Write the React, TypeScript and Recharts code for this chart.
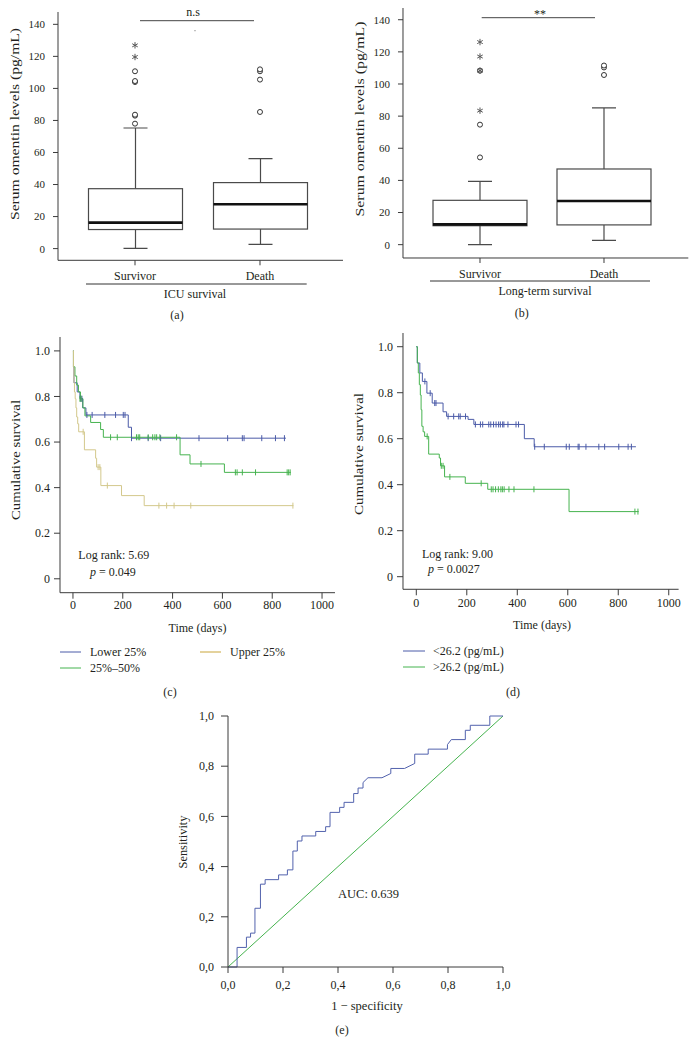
import React from "react";
import { ComposedChart, Bar, Scatter, Line, XAxis, YAxis } from "recharts";

const FONT = "'Liberation Serif', 'Times New Roman', serif";
const INK = "#231f20";
const AXIS = "#3a3a3a";

// ---------- (a), (b) box plots ----------
const groups = ["Survivor", "Death"];
// lower whisker, Q1, median, Q3, upper whisker
const icuSurvivor = [0.2, 11.9, 16.2, 37.4, 75.3];
const icuDeath = [2.7, 12.2, 27.7, 41.2, 56.2];
const longSurvivor = [0, 11.8, 12.6, 27.6, 39.4];
const longDeath = [2.7, 12.3, 27.2, 47.1, 85.1];

const icuSurvivorCircles = [78, 83, 83.6, 104, 104.6, 110.7];
const icuSurvivorStars = [119.6, 126.9];
const icuDeathCircles = [85.3, 105.5, 110.7, 111.9];
const longSurvivorCircles = [54.3, 74.7, 108.3];
const longSurvivorStars = [83.4, 108.3, 117.1, 126.1];
const longDeathCircles = [105.6, 110.3, 111.5];

const boxTicks = [0, 20, 40, 60, 80, 100, 120, 140];

// ---------- (c) KM by quartile ----------
const lowerSteps = [[0, 1], [2, 0.93], [4, 0.86], [17, 0.82], [28, 0.79], [39, 0.75], [52, 0.719], [222, 0.665], [235, 0.617], [855, 0.617]];
const lowerCensor = [[31, 0.79], [36, 0.79], [56, 0.719], [77, 0.719], [128, 0.719], [171, 0.719], [202, 0.719], [209, 0.719], [235, 0.617], [302, 0.617], [352, 0.617], [506, 0.617], [621, 0.617], [680, 0.617], [687, 0.617], [758, 0.617], [813, 0.617], [849, 0.617]];
const midSteps = [[0, 1], [2, 0.93], [8, 0.89], [15, 0.85], [22, 0.82], [30, 0.79], [40, 0.75], [48, 0.715], [71, 0.686], [111, 0.655], [122, 0.621], [430, 0.544], [470, 0.504], [608, 0.467], [875, 0.467]];
const midCensor = [[28, 0.79], [33, 0.79], [151, 0.621], [178, 0.621], [255, 0.621], [262, 0.621], [268, 0.621], [302, 0.621], [320, 0.621], [329, 0.621], [336, 0.621], [349, 0.621], [416, 0.621], [514, 0.504], [652, 0.467], [659, 0.467], [680, 0.467], [733, 0.467], [860, 0.467], [866, 0.467], [872, 0.467]];
const upperSteps = [[0, 1], [2, 0.93], [4, 0.86], [6, 0.82], [9, 0.79], [12, 0.75], [15, 0.71], [19, 0.68], [23, 0.645], [46, 0.566], [91, 0.529], [95, 0.49], [112, 0.409], [195, 0.365], [286, 0.321], [885, 0.321]];
const upperCensor = [[41, 0.645], [101, 0.49], [108, 0.49], [138, 0.409], [345, 0.321], [376, 0.321], [406, 0.321], [473, 0.321], [883, 0.321]];

// ---------- (d) KM by cut-off ----------
const lowSteps = [[0, 1], [4, 0.929], [14, 0.886], [24, 0.849], [42, 0.798], [63, 0.755], [106, 0.717], [120, 0.697], [205, 0.684], [228, 0.662], [428, 0.6], [467, 0.565], [870, 0.565]];
const lowCensor = [[34, 0.849], [55, 0.798], [73, 0.755], [78, 0.755], [126, 0.697], [148, 0.697], [168, 0.697], [174, 0.697], [195, 0.697], [234, 0.662], [254, 0.662], [263, 0.662], [287, 0.662], [295, 0.662], [306, 0.662], [316, 0.662], [326, 0.662], [333, 0.662], [342, 0.662], [347, 0.662], [363, 0.662], [395, 0.662], [405, 0.662], [469, 0.565], [507, 0.565], [594, 0.565], [606, 0.565], [641, 0.565], [645, 0.565], [672, 0.565], [723, 0.565], [746, 0.565], [802, 0.565], [839, 0.565], [852, 0.565]];
const highSteps = [[0, 1], [4, 0.93], [8, 0.886], [12, 0.835], [16, 0.79], [19, 0.726], [22, 0.654], [27, 0.63], [33, 0.61], [49, 0.533], [91, 0.516], [96, 0.482], [112, 0.434], [194, 0.406], [283, 0.38], [605, 0.283], [881, 0.283]];
const highCensor = [[43, 0.61], [99, 0.482], [106, 0.482], [133, 0.434], [257, 0.406], [297, 0.38], [304, 0.38], [314, 0.38], [325, 0.38], [335, 0.38], [341, 0.38], [348, 0.38], [367, 0.38], [387, 0.38], [466, 0.38], [866, 0.283], [878, 0.283]];

const dayTicks = [0, 200, 400, 600, 800, 1000];
const survTicks = [0, 0.2, 0.4, 0.6, 0.8, 1.0];

// ---------- (e) ROC ----------
const rocPoints = [
  [0, 0], [0.033, 0], [0.033, 0.078], [0.067, 0.078], [0.067, 0.119], [0.082, 0.119], [0.082, 0.135],
  [0.098, 0.135], [0.098, 0.234], [0.118, 0.234], [0.118, 0.33], [0.135, 0.33], [0.135, 0.348],
  [0.184, 0.348], [0.184, 0.367], [0.216, 0.367], [0.216, 0.387], [0.236, 0.387], [0.236, 0.462],
  [0.252, 0.462], [0.252, 0.502], [0.269, 0.502], [0.269, 0.522], [0.319, 0.522], [0.319, 0.54],
  [0.355, 0.54], [0.355, 0.559], [0.371, 0.559], [0.371, 0.616], [0.406, 0.616], [0.406, 0.636],
  [0.422, 0.636], [0.422, 0.656], [0.457, 0.656], [0.457, 0.691], [0.473, 0.691], [0.473, 0.713],
  [0.491, 0.713], [0.491, 0.735], [0.509, 0.754], [0.56, 0.754], [0.592, 0.771], [0.592, 0.791],
  [0.642, 0.791], [0.679, 0.811], [0.679, 0.848], [0.728, 0.848], [0.728, 0.868], [0.798, 0.868],
  [0.798, 0.886], [0.812, 0.906], [0.863, 0.906], [0.863, 0.943], [0.881, 0.943], [0.881, 0.963],
  [0.952, 0.963], [0.952, 1], [1, 1],
];
const refPoints = [[0, 0], [1, 1]];
const rocTicks = [0, 0.2, 0.4, 0.6, 0.8, 1.0];

// ---------- helpers ----------
const toBox = (group: string, v: number[]) => ({
  group, lo: v[0], q1: v[1], med: v[2], q3: v[3], hi: v[4], range: [v[0], v[4]],
});
const toOut = (group: string, vals: number[], kind: string) => vals.map((v) => ({ group, v, kind }));
const toKM = (pts: number[][]) => pts.map(([t, s]) => ({ t, s }));

const icuBoxes = [toBox(groups[0], icuSurvivor), toBox(groups[1], icuDeath)];
const icuOut = [
  ...toOut(groups[0], icuSurvivorCircles, "o"),
  ...toOut(groups[0], icuSurvivorStars, "*"),
  ...toOut(groups[1], icuDeathCircles, "o"),
];
const longBoxes = [toBox(groups[0], longSurvivor), toBox(groups[1], longDeath)];
const longOut = [
  ...toOut(groups[0], longSurvivorCircles, "o"),
  ...toOut(groups[0], longSurvivorStars, "*"),
  ...toOut(groups[1], longDeathCircles, "o"),
];

const BLUE = "#4a5aa8";
const GREEN = "#45b34e";
const KHAKI = "#d3c88c";

const kmC = [
  { name: "Lower 25%", color: BLUE, steps: toKM(lowerSteps), censor: toKM(lowerCensor) },
  { name: "25%–50%", color: GREEN, steps: toKM(midSteps), censor: toKM(midCensor) },
  { name: "Upper 25%", color: KHAKI, steps: toKM(upperSteps), censor: toKM(upperCensor) },
];
const kmD = [
  { name: "<26.2 (pg/mL)", color: BLUE, steps: toKM(lowSteps), censor: toKM(lowCensor) },
  { name: ">26.2 (pg/mL)", color: GREEN, steps: toKM(highSteps), censor: toKM(highCensor) },
];

const YW = 50;
const XH = 30;
const MT = 10;

const BoxShape = (props: any) => {
  const { x, y, width, height, payload } = props;
  const { lo, q1, med, q3, hi } = payload;
  const py = (v: number) => y + (height * (hi - v)) / (hi - lo);
  const cx = x + width / 2;
  const cap = 12;
  return (
    <g stroke="#4a4a4a" strokeWidth={1.2} fill="none">
      <line x1={cx} x2={cx} y1={py(hi)} y2={py(q3)} />
      <line x1={cx} x2={cx} y1={py(q1)} y2={py(lo)} />
      <line x1={cx - cap} x2={cx + cap} y1={py(hi)} y2={py(hi)} />
      <line x1={cx - cap} x2={cx + cap} y1={py(lo)} y2={py(lo)} />
      <rect x={x} y={py(q3)} width={width} height={py(q1) - py(q3)} fill="#fff" />
      <line x1={x} x2={x + width} y1={py(med)} y2={py(med)} stroke="#111" strokeWidth={2.6} />
    </g>
  );
};

const OutlierShape = (props: any) => {
  const { cx, cy, payload } = props;
  if (payload.kind === "*") {
    const r = 3.2;
    const a = r * Math.cos(Math.PI / 6);
    const b = r * Math.sin(Math.PI / 6);
    return (
      <g stroke="#555" strokeWidth={1}>
        <line x1={cx} x2={cx} y1={cy - r} y2={cy + r} />
        <line x1={cx - a} x2={cx + a} y1={cy - b} y2={cy + b} />
        <line x1={cx - a} x2={cx + a} y1={cy + b} y2={cy - b} />
      </g>
    );
  }
  return <circle cx={cx} cy={cy} r={2.5} fill="#fff" stroke="#333" strokeWidth={1} />;
};

const censorShape = (color: string) => (props: any) => (
  <line x1={props.cx} x2={props.cx} y1={props.cy - 3} y2={props.cy + 3} stroke={color} strokeWidth={1} />
);

const tickStyle = (size: number) => ({ fill: INK, fontSize: size, fontFamily: FONT });

function BoxPanel({ boxes, outliers, left, top, width, height, yDomain, padL, padR }: any) {
  return (
    <div style={{ position: "absolute", left: left - YW, top: top - MT }}>
      <ComposedChart width={YW + width + 2} height={MT + height + XH} data={boxes} margin={{ top: MT, right: 2, bottom: 0, left: 0 }}>
        <XAxis dataKey="group" type="category" allowDuplicatedCategory={false} padding={{ left: padL, right: padR }}
          height={XH} tickSize={5} tickMargin={6} stroke={AXIS} tick={tickStyle(12)} />
        <YAxis type="number" domain={yDomain} ticks={boxTicks} allowDataOverflow width={YW} tickSize={5} tickMargin={8}
          stroke={AXIS} tick={tickStyle(11)} />
        <Bar dataKey="range" barSize={94} shape={(p: any) => <BoxShape {...p} />} isAnimationActive={false} />
        <Scatter data={outliers} dataKey="v" shape={(p: any) => <OutlierShape {...p} />} isAnimationActive={false} />
      </ComposedChart>
    </div>
  );
}

function KMPanel({ series, left, top, width, height, yDomain, xDomain, xMargin, yMargin }: any) {
  return (
    <div style={{ position: "absolute", left: left - YW, top: top - MT }}>
      <ComposedChart width={YW + width + 20} height={MT + height + XH} margin={{ top: MT, right: 20, bottom: 0, left: 0 }}>
        <XAxis dataKey="t" type="number" domain={xDomain} ticks={dayTicks} allowDataOverflow height={XH}
          tickSize={6} tickMargin={xMargin} stroke={AXIS} tick={tickStyle(12)} />
        <YAxis type="number" domain={yDomain} ticks={survTicks} allowDataOverflow width={YW} tickSize={6}
          tickMargin={yMargin} stroke={AXIS} tick={tickStyle(12)}
          tickFormatter={(v: number) => (v === 0 ? "0" : v.toFixed(1))} />
        {series.map((s: any) => (
          <Line key={s.name} data={s.steps} dataKey="s" type="stepAfter" stroke={s.color} strokeWidth={1}
            dot={false} activeDot={false} isAnimationActive={false} />
        ))}
        {series.map((s: any) => (
          <Scatter key={s.name + "c"} data={s.censor} dataKey="s" shape={censorShape(s.color)} isAnimationActive={false} />
        ))}
      </ComposedChart>
    </div>
  );
}

function RocPanel({ left, top, width, height }: any) {
  const fmt = (v: number) => v.toFixed(1).replace(".", ",");
  return (
    <div style={{ position: "absolute", left: left - YW, top: top - MT }}>
      <ComposedChart width={YW + width + 20} height={MT + height + XH} margin={{ top: MT, right: 20, bottom: 0, left: 0 }}>
        <XAxis dataKey="x" type="number" domain={[0, 1]} ticks={rocTicks} height={XH} tickSize={6} tickMargin={7}
          stroke={AXIS} tick={tickStyle(12)} tickFormatter={fmt} />
        <YAxis type="number" domain={[0, 1]} ticks={rocTicks} width={YW} tickSize={7} tickMargin={7}
          stroke={AXIS} tick={tickStyle(12)} tickFormatter={fmt} />
        <Line data={refPoints.map(([x, y]) => ({ x, y }))} dataKey="y" type="linear" stroke={GREEN} strokeWidth={1}
          dot={false} activeDot={false} isAnimationActive={false} />
        <Line data={rocPoints.map(([x, y]) => ({ x, y }))} dataKey="y" type="linear" stroke="#5262ad" strokeWidth={1}
          dot={false} activeDot={false} isAnimationActive={false} />
      </ComposedChart>
    </div>
  );
}

const T = ({ x, y, children, anchor = "middle", size = 12, len }: any) => (
  <text x={x} y={y} textAnchor={anchor} dominantBaseline="central" fontSize={size} fontFamily={FONT} fill={INK}
    {...(len ? { textLength: len, lengthAdjust: "spacingAndGlyphs" } : {})}>
    {children}
  </text>
);

const VLabel = ({ x, y, len, children }: any) => (
  <g transform={`rotate(-90 ${x} ${y})`}>
    <T x={x} y={y} len={len}>{children}</T>
  </g>
);

export default function App() {
  return (
    <div style={{ position: "absolute", left: 0, top: 0, width: 689, height: 1057, overflow: "hidden", background: "#fff" }}>
      <BoxPanel boxes={icuBoxes} outliers={icuOut} left={58} top={11.7} width={285} height={248.3}
        yDomain={[-7.3, 147.7]} padL={14.5} padR={20.5} />
      <BoxPanel boxes={longBoxes} outliers={longOut} left={402.7} top={8.3} width={285.3} height={250}
        yDomain={[-8.3, 147.3]} padL={15} padR={22.3} />
      <KMPanel series={kmC} left={60} top={337} width={275} height={255.7} yDomain={[-0.061, 1.061]}
        xDomain={[-52, 1052]} xMargin={2} yMargin={4} />
      <KMPanel series={kmD} left={402.7} top={333} width={275.6} height={256.3} yDomain={[-0.0548, 1.0596]}
        xDomain={[-52.7, 1039]} xMargin={3} yMargin={4} />
      <RocPanel left={228} top={716} width={275} height={251} />

      <svg width={689} height={1057} style={{ position: "absolute", left: 0, top: 0, pointerEvents: "none" }}>
        {/* (a) */}
        <VLabel x={15} y={124} len={192}>Serum omentin levels (pg/mL)</VLabel>
        <line x1={140} x2={254} y1={20.7} y2={20.7} stroke="#444" />
        <T x={193} y={11.5}>n.s</T>
        <circle cx={195} cy={30.7} r={0.6} fill="#777" />
        <line x1={86} x2={306.7} y1={284} y2={284} stroke="#333" />
        <T x={195} y={293.5}>ICU survival</T>
        <T x={177} y={315}>(a)</T>

        {/* (b) */}
        <VLabel x={360} y={119} len={195}>Serum omentin levels (pg/mL)</VLabel>
        <line x1={481.7} x2={595} y1={17.7} y2={17.7} stroke="#444" />
        <T x={540} y={14}>**</T>
        <line x1={430} x2={650} y1={281} y2={281} stroke="#333" />
        <T x={545} y={290.7}>Long-term survival</T>
        <T x={521.7} y={313}>(b)</T>

        {/* (c) */}
        <VLabel x={16} y={460} len={120}>Cumulative survival</VLabel>
        <T x={78.3} y={555} anchor="start">Log rank: 5.69</T>
        <T x={90} y={571.7} anchor="start"><tspan fontStyle="italic">p</tspan> = 0.049</T>
        <T x={197.5} y={628}>Time (days)</T>
        {kmC.map((s, i) => {
          const col = i === 2 ? 1 : 0;
          const row = i === 1 ? 1 : 0;
          const x0 = col ? 200 : 60;
          const y0 = 652 + row * 16;
          return (
            <g key={s.name}>
              <line x1={x0} x2={x0 + 21} y1={y0} y2={y0} stroke={i === 2 ? "#c9a53a" : s.color} />
              <T x={x0 + 30} y={y0} anchor="start">{s.name}</T>
            </g>
          );
        })}
        <T x={170} y={692}>(c)</T>

        {/* (d) */}
        <VLabel x={359} y={454} len={122}>Cumulative survival</VLabel>
        <T x={422} y={554} anchor="start">Log rank: 9.00</T>
        <T x={428} y={569} anchor="start"><tspan fontStyle="italic">p</tspan> = 0.0027</T>
        <T x={542} y={625}>Time (days)</T>
        {kmD.map((s, i) => (
          <g key={s.name}>
            <line x1={403} x2={425} y1={651 + i * 16} y2={651 + i * 16} stroke={s.color} />
            <T x={433} y={651 + i * 16} anchor="start">{s.name}</T>
          </g>
        ))}
        <T x={513} y={692}>(d)</T>

        {/* (e) */}
        <VLabel x={183} y={842} len={53}>Sensitivity</VLabel>
        <T x={338} y={894} anchor="start" size={12.5}>AUC: 0.639</T>
        <T x={367} y={1006} size={12.5}>1 − specificity</T>
        <T x={342} y={1030}>(e)</T>
      </svg>
    </div>
  );
}
